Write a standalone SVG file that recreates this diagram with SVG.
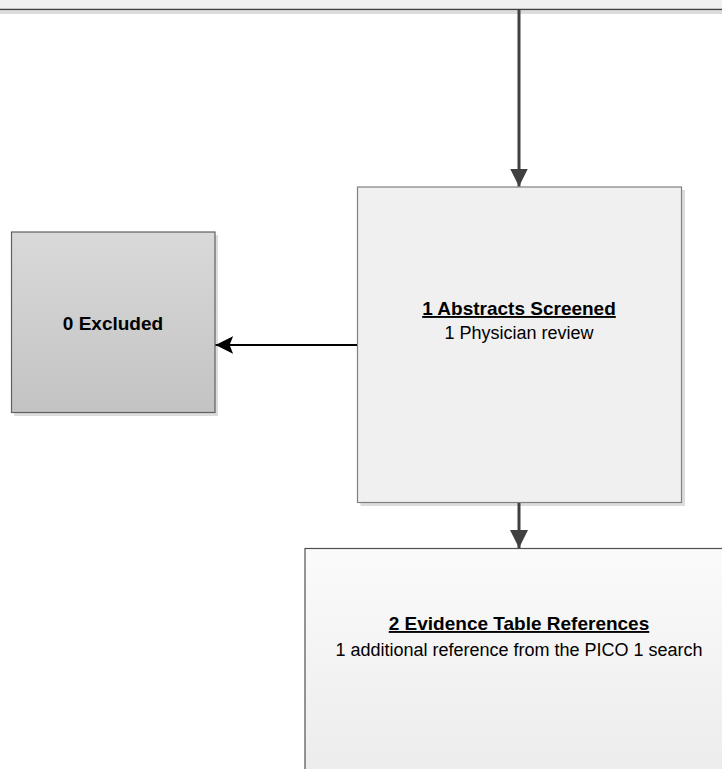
<svg xmlns="http://www.w3.org/2000/svg" width="722" height="769" viewBox="0 0 722 769">
<defs>
<linearGradient id="gExcl" x1="0" y1="0" x2="0" y2="1">
<stop offset="0" stop-color="#d9d9d9"/>
<stop offset="1" stop-color="#c3c3c3"/>
</linearGradient>
<linearGradient id="gEvid" x1="0" y1="0" x2="0" y2="1">
<stop offset="0" stop-color="#fbfbfb"/>
<stop offset="1" stop-color="#ececec"/>
</linearGradient>
<marker id="ahGrey" viewBox="0 0 10 10" refX="10" refY="5" markerWidth="6" markerHeight="6" orient="auto" markerUnits="strokeWidth">
<path d="M0,0 L10,5 L0,10 z" fill="#404040"/>
</marker>
<marker id="ahBlack" viewBox="0 0 10 10" refX="10" refY="5" markerWidth="8" markerHeight="8" orient="auto" markerUnits="strokeWidth">
<path d="M0,0 L10,5 L0,10 L2,5 z" fill="#000000"/>
</marker>
</defs>
<style>
.shadow{fill:#dcdcdc;}
.t{font-family:"Liberation Sans",Arial,sans-serif;fill:#000;text-anchor:middle;}
.b{font-weight:bold;font-size:19px;}
.r{font-size:18px;}
.u{text-decoration:underline;}
</style>
<rect width="722" height="769" fill="#ffffff"/>

<g id="top-box">
<rect x="-2" y="11" width="726" height="3" class="shadow"/>
<rect x="-2" y="-2" width="726" height="11.5" fill="#f0f0f0" stroke="#404040" stroke-width="1.5"/>
</g>

<g id="abstracts-screened">
<rect x="360.5" y="190" width="324.5" height="316" class="shadow"/>
<rect x="357.5" y="187" width="324" height="315.5" fill="#f0f0f0" stroke="#808080" stroke-width="1.2"/>
<text class="t b u" x="519" y="315">1 Abstracts Screened</text>
<text class="t r" x="519" y="339">1 Physician review</text>
</g>

<g id="excluded">
<rect x="14" y="235" width="204" height="181" class="shadow"/>
<rect x="11.5" y="232" width="203.5" height="180.5" fill="url(#gExcl)" stroke="#606060" stroke-width="1.2"/>
<text class="t b" x="113" y="330">0 Excluded</text>
</g>

<g id="evidence-table">
<rect x="308" y="551" width="420" height="225" class="shadow"/>
<rect x="305" y="548.5" width="420" height="225" fill="url(#gEvid)" stroke="#505050" stroke-width="1.2"/>
<text class="t b u" x="519" y="630">2 Evidence Table References</text>
<text class="t r" x="519" y="656">1 additional reference from the PICO 1 search</text>
</g>

<g id="connectors">
<line x1="519" y1="10" x2="519" y2="186.5" stroke="#404040" stroke-width="3" marker-end="url(#ahGrey)"/>
<line x1="357" y1="345" x2="215.5" y2="345" stroke="#000000" stroke-width="2.2" marker-end="url(#ahBlack)"/>
<line x1="519" y1="503" x2="519" y2="548" stroke="#404040" stroke-width="3" marker-end="url(#ahGrey)"/>
</g>
</svg>
